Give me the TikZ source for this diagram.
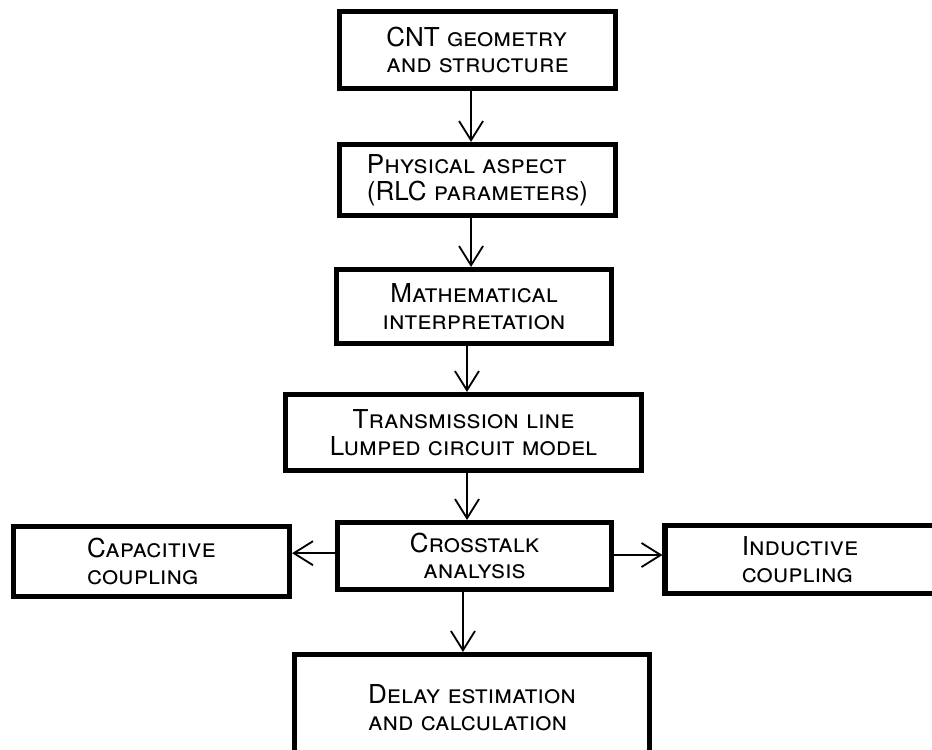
\documentclass[tikz,border=0pt]{standalone}
\usepackage{fontspec}
\setmainfont{TeX Gyre Heros}
\usetikzlibrary{arrows.meta}
\usetikzlibrary{positioning}

\begin{document}
\begin{tikzpicture}[x=0.025cm,y=-0.025cm,
  box/.style={draw=black, line width=3.6pt, inner sep=0pt,
    font=\fontsize{18.5}{19}\selectfont\scshape},
  flow/.style={-{Straight Barb[length=4.8mm,width=6mm]}, line width=1.3pt}]
\useasboundingbox (0,0) rectangle (932,749);
\clip (0,0) rectangle (932,749);
\node[box, align=left, minimum width=6.9cm, minimum height=1.925cm] (cnt) at (477.5,50) {CNT geometry\\and structure};
\node[box, align=left, minimum width=6.9cm, minimum height=1.775cm] (phys) at (477.5,180) {Physical aspect\\(RLC parameters)};
\node[box, align=center, minimum width=6.875cm, minimum height=1.85cm] (math) at (474,306.5) {Mathematical\\interpretation};
\node[box, align=center, minimum width=8.9cm, minimum height=1.9cm] (trans) at (463.5,432.5) {Transmission line\\Lumped circuit model};
\node[box, align=center, minimum width=6.85cm, minimum height=1.675cm] (cross) at (474.5,556) {Crosstalk\\analysis};
\node[box, align=left, minimum width=6.9cm, minimum height=1.75cm] (cap) at (151.5,561.5) {Capacitive\\coupling};
\node[box, align=left, minimum width=6.75cm, minimum height=1.7cm] (ind) at (800,559.5) {Inductive\\coupling};
\node[box, align=left, minimum width=8.875cm, minimum height=2.65cm] (delay) at (472,707.5) {Delay estimation\\and calculation};
% arrows
\draw[flow] ([xshift=-4.6pt]cnt.south) -- ([xshift=-4.6pt]cnt.south |- phys.north);
\draw[flow] ([xshift=-4.6pt]phys.south) -- ([xshift=-4.6pt]phys.south |- math.north);
\draw[flow] ([xshift=-5pt]math.south) -- ([xshift=-5pt]math.south |- trans.north);
\draw[flow] ([xshift=2.5pt]trans.south) -- ([xshift=2.5pt]trans.south |- cross.north);
\draw[flow] ([xshift=-8.2pt]cross.south) -- ([xshift=-8.2pt]cross.south |- delay.north);
\draw[flow] ([yshift=2pt]cross.west) -- ([yshift=2pt]cross.west -| cap.east);
\draw[flow] ([yshift=0.7pt]cross.east) -- ([yshift=0.7pt]cross.east -| ind.west);
\end{tikzpicture}
\end{document}
